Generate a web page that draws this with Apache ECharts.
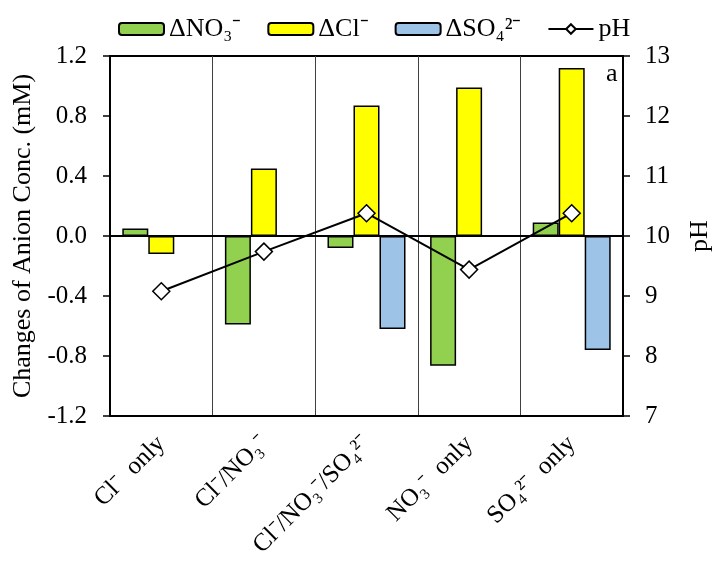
<!DOCTYPE html>
<html>
<head>
<meta charset="utf-8">
<script src="https://cdn.jsdelivr.net/npm/echarts@6/dist/echarts.min.js"></script>
<style>html,body{margin:0;padding:0;background:#fff}#c{width:721px;height:573px}</style>
</head>
<body>
<div id="c"></div>
<script>
var categories = ['Cl\u207B  only', 'Cl\u207B/NO\u2083\u207B', 'Cl\u207B/NO\u2083\u207B/SO\u2084\u00B2\u207B', 'NO\u2083\u207B  only', 'SO\u2084\u00B2\u207B  only'];
var dNO3 = [0.05, -0.59, -0.08, -0.865, 0.09];
var dCl = [-0.12, 0.45, 0.87, 0.99, 1.12];
var dSO4 = [null, null, -0.62, null, -0.76];
var pH = [9.08, 9.74, 10.38, 9.44, 10.38];
var leftTicks = {min: -1.2, max: 1.2, interval: 0.4};
var rightTicks = {min: 7, max: 13, interval: 1};

var FONT = 'Liberation Serif';
var chart = echarts.init(document.getElementById('c'), null, {renderer: 'canvas'});
var barStyle = function (c) { return {color: c, borderColor: '#000', borderWidth: 1.5}; };
chart.setOption({
  animation: false,
  textStyle: {fontFamily: FONT, color: '#000'},
  grid: {left: 110, right: 89, top: 56, bottom: 157, show: true, borderColor: '#000', borderWidth: 2, backgroundColor: 'transparent'},
  legend: {
    left: 113, top: 11, itemWidth: 45, itemHeight: 12, itemGap: 26,
    textStyle: {fontFamily: FONT, fontSize: 26, color: '#000'},
    itemStyle: {borderWidth: 2},
    data: ['\u0394NO\u2083\u207B', '\u0394Cl\u207B', '\u0394SO\u2084\u00B2\u207B', 'pH']
  },
  xAxis: {
    type: 'category', data: categories,
    axisLine: {onZero: false, lineStyle: {color: '#000', width: 2}},
    axisTick: {show: false},
    splitLine: {show: true, lineStyle: {color: '#404040', width: 1}},
    axisLabel: {rotate: 45, interval: 0, margin: 24, fontFamily: FONT, fontSize: 25, color: '#000'}
  },
  yAxis: [{
    type: 'value', min: leftTicks.min, max: leftTicks.max, interval: leftTicks.interval,
    name: 'Changes of Anion Conc. (mM)', nameLocation: 'middle', nameGap: 71,
    nameTextStyle: {fontFamily: FONT, fontSize: 26, color: '#000'},
    axisLine: {show: true, onZero: false, lineStyle: {color: '#000', width: 2}},
    axisTick: {show: true, inside: false, length: 7, lineStyle: {color: '#000', width: 1.5}},
    splitLine: {show: false},
    axisLabel: {margin: 23, fontFamily: FONT, fontSize: 25, color: '#000', formatter: function (v) { return v.toFixed(1); }}
  }, {
    type: 'value', position: 'right', min: rightTicks.min, max: rightTicks.max, interval: rightTicks.interval,
    name: 'pH', nameLocation: 'middle', nameGap: 64, nameRotate: 90,
    nameTextStyle: {fontFamily: FONT, fontSize: 26, color: '#000'},
    axisLine: {show: true, onZero: false, lineStyle: {color: '#000', width: 2}},
    axisTick: {show: true, inside: false, length: 7, lineStyle: {color: '#000', width: 1.5}},
    splitLine: {show: false},
    axisLabel: {margin: 22, fontFamily: FONT, fontSize: 25, color: '#000'}
  }],
  series: [{
    name: '\u0394NO\u2083\u207B', type: 'bar', data: dNO3, barWidth: 26, barGap: '0%', itemStyle: barStyle('#92D050'),
    markLine: {silent: true, symbol: 'none', label: {show: false}, lineStyle: {color: '#000', width: 2, type: 'solid'}, data: [{yAxis: 0}]}
  }, {
    name: '\u0394Cl\u207B', type: 'bar', data: dCl, barWidth: 26, barGap: '0%', itemStyle: barStyle('#FFFF00')
  }, {
    name: '\u0394SO\u2084\u00B2\u207B', type: 'bar', data: dSO4, barWidth: 26, barGap: '0%', itemStyle: barStyle('#9DC3E6')
  }, {
    name: 'pH', type: 'line', yAxisIndex: 1, data: pH, z: 5,
    symbol: 'diamond', symbolSize: 17,
    lineStyle: {color: '#000', width: 2},
    itemStyle: {color: '#fff', borderColor: '#000', borderWidth: 1.5}
  }],
  graphic: [{type: 'text', left: 606, top: 61, style: {text: 'a', font: '26px "Liberation Serif"', fill: '#000'}}]
});
</script>
</body>
</html>
